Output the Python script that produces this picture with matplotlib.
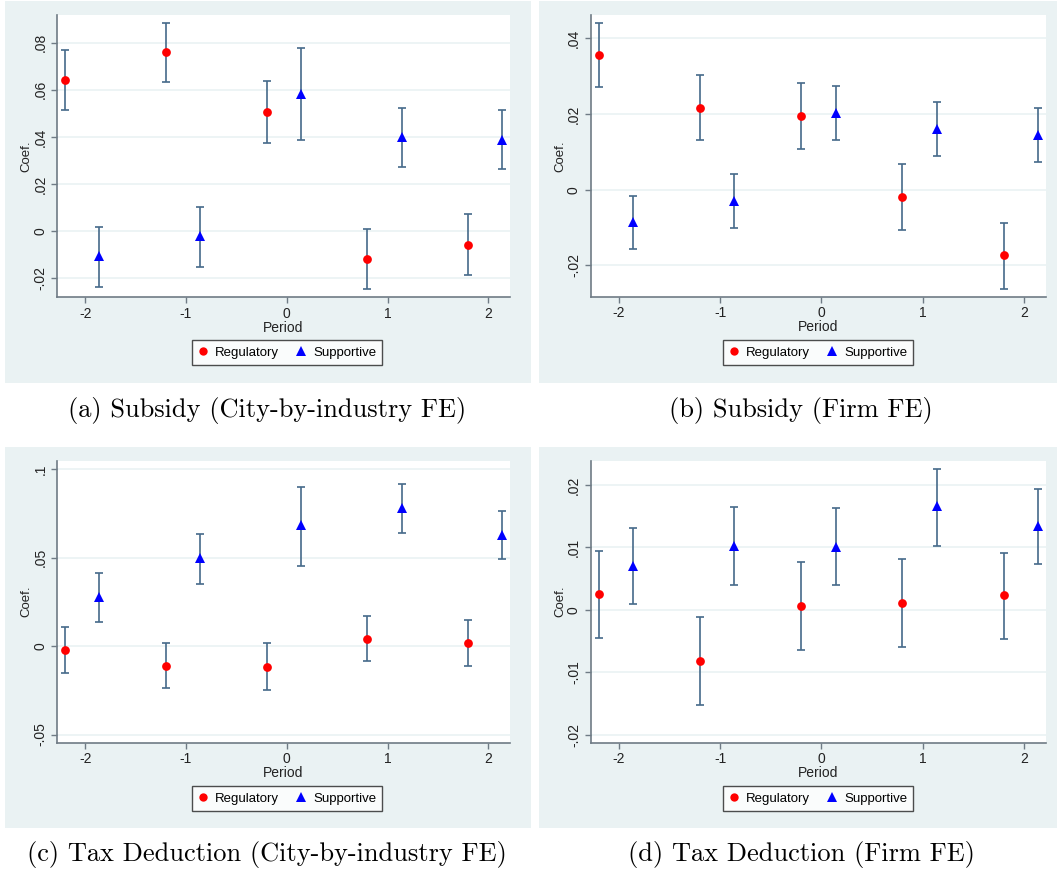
import matplotlib
matplotlib.use("Agg")
import matplotlib.pyplot as plt
from matplotlib.lines import Line2D
from matplotlib.patches import Rectangle
from matplotlib.ticker import FixedLocator, FuncFormatter

plt.rcParams['font.family'] = ['Liberation Sans', 'DejaVu Sans']

# event-time positions (dodged)
reg_x = [-2.2, -1.2, -0.2, 0.8, 1.8]
sup_x = [-1.86, -0.86, 0.14, 1.14, 2.14]

# (a) Subsidy, city-by-industry FE
a_reg = [0.0642, 0.0758, 0.0505, -0.0116, -0.0058]
a_reg_hi = [0.0769, 0.0885, 0.0638, 0.0010, 0.0071]
a_reg_lo = [0.0516, 0.0632, 0.0373, -0.0243, -0.0185]
a_sup = [-0.0105, -0.0020, 0.0582, 0.0401, 0.0387]
a_sup_hi = [0.0020, 0.0104, 0.0775, 0.0524, 0.0512]
a_sup_lo = [-0.0236, -0.0150, 0.0386, 0.0274, 0.0264]

# (b) Subsidy, firm FE
b_reg = [0.0356, 0.0217, 0.0194, -0.0019, -0.0174]
b_reg_hi = [0.0441, 0.0304, 0.0281, 0.0069, -0.0087]
b_reg_lo = [0.0271, 0.0131, 0.0107, -0.0107, -0.0262]
b_sup = [-0.0085, -0.0030, 0.0203, 0.0160, 0.0145]
b_sup_hi = [-0.0018, 0.0041, 0.0275, 0.0233, 0.0216]
b_sup_lo = [-0.0156, -0.0102, 0.0131, 0.0088, 0.0073]

# (c) Tax deduction, city-by-industry FE
c_reg = [-0.0023, -0.0111, -0.0119, 0.0040, 0.0017]
c_reg_hi = [0.0106, 0.0019, 0.0015, 0.0168, 0.0145]
c_reg_lo = [-0.0151, -0.0239, -0.0249, -0.0087, -0.0113]
c_sup = [0.0277, 0.0495, 0.0682, 0.0778, 0.0627]
c_sup_hi = [0.0414, 0.0631, 0.0900, 0.0915, 0.0763]
c_sup_lo = [0.0136, 0.0352, 0.0454, 0.0637, 0.0492]

# (d) Tax deduction, firm FE
d_reg = [0.0025, -0.0082, 0.0006, 0.0011, 0.0023]
d_reg_hi = [0.0095, -0.0011, 0.0077, 0.0081, 0.0091]
d_reg_lo = [-0.0045, -0.0153, -0.0064, -0.0060, -0.0047]
d_sup = [0.0071, 0.0102, 0.0101, 0.0166, 0.0135]
d_sup_hi = [0.0131, 0.0164, 0.0163, 0.0226, 0.0194]
d_sup_lo = [0.0010, 0.0040, 0.0039, 0.0103, 0.0074]

x_ticks = [-2, -1, 0, 1, 2]
captions = ["(a) Subsidy (City-by-industry FE)", "(b) Subsidy (Firm FE)",
            "(c) Tax Deduction (City-by-industry FE)", "(d) Tax Deduction (Firm FE)"]

W, H = 1057, 875
BG = '#eaf2f3'
BAR = '#466a8a'
AXC = '#6f7b85'

fig = plt.figure(figsize=(W / 100, H / 100), dpi=100)


def fx(px):
    return px / W


def fy(py):
    return 1 - py / H


def stata_fmt(v, pos=None):
    v = round(v, 6)
    if v == 0:
        return "0"
    s = f"{v:g}"
    return s.replace("0.", ".")


panels = [
    # bg box, axes box (left, top, right, bottom), ylim, yticks, data
    dict(bg=(5, 1, 531, 383), ax=(57, 15, 510, 297), ylim=(-0.0279, 0.0917),
         yt=[-0.02, 0, 0.02, 0.04, 0.06, 0.08], leg=(287, 352.5), cap=(267, 410),
         d=(a_reg, a_reg_lo, a_reg_hi, a_sup, a_sup_lo, a_sup_hi)),
    dict(bg=(539, 1, 1057, 383), ax=(590.7, 15, 1045.7, 296.7), ylim=(-0.0283, 0.0462),
         yt=[-0.02, 0, 0.02, 0.04], leg=(818, 352.5), cap=(801, 410),
         d=(b_reg, b_reg_lo, b_reg_hi, b_sup, b_sup_lo, b_sup_hi)),
    dict(bg=(5, 447, 531, 828), ax=(57, 460.7, 510, 742.7), ylim=(-0.0546, 0.1047),
         yt=[-0.05, 0, 0.05, 0.1], leg=(287, 798.5), cap=(267, 855),
         d=(c_reg, c_reg_lo, c_reg_hi, c_sup, c_sup_lo, c_sup_hi)),
    dict(bg=(539, 447, 1057, 828), ax=(590.7, 460.7, 1045.7, 742.7), ylim=(-0.0213, 0.0239),
         yt=[-0.02, -0.01, 0, 0.01, 0.02], leg=(818, 798.5), cap=(801, 855),
         d=(d_reg, d_reg_lo, d_reg_hi, d_sup, d_sup_lo, d_sup_hi)),
]

for p, caption in zip(panels, captions):
    x0, y0, x1, y1 = p['bg']
    fig.patches.append(Rectangle((fx(x0), fy(y1)), fx(x1 - x0), (y1 - y0) / H,
                                 transform=fig.transFigure, facecolor=BG,
                                 edgecolor='none', zorder=-5))
    l, t, r, b = p['ax']
    ax = fig.add_axes([fx(l), fy(b), fx(r - l), (b - t) / H])
    ax.set_facecolor('white')
    ax.set_xlim(-2.28, 2.215)
    ax.set_ylim(*p['ylim'])

    reg, reg_lo, reg_hi, sup, sup_lo, sup_hi = p['d']
    for xs, ys, lo, hi in ((reg_x, reg, reg_lo, reg_hi), (sup_x, sup, sup_lo, sup_hi)):
        err = [[y - a for y, a in zip(ys, lo)], [c - y for y, c in zip(ys, hi)]]
        ax.errorbar(xs, ys, yerr=err, fmt='none', ecolor=BAR, elinewidth=1.2,
                    capsize=3, capthick=1.2, zorder=2)
    ax.plot(reg_x, reg, 'o', color='#ff0000', markersize=6.3, markeredgewidth=0, zorder=3)
    ax.plot(sup_x, sup, '^', color='#0000ff', markersize=6.8, markeredgewidth=0, zorder=3)

    ax.yaxis.set_major_locator(FixedLocator(p['yt']))
    ax.yaxis.set_major_formatter(FuncFormatter(stata_fmt))
    ax.set_xticks(x_ticks)
    ax.set_xticklabels([str(v) for v in x_ticks])
    ax.grid(axis='y', color=BG, linewidth=1.2)
    ax.set_axisbelow(True)
    for s in ('top', 'right'):
        ax.spines[s].set_visible(False)
    for s in ('left', 'bottom'):
        ax.spines[s].set_color(AXC)
        ax.spines[s].set_linewidth(1.2)
    ax.tick_params(direction='out', length=4, width=1, color=AXC,
                   labelsize=10, pad=3, labelcolor='#222222')
    for lab in ax.get_yticklabels():
        lab.set_rotation(90)
        lab.set_va('center')
    ax.set_xlabel("Period", fontsize=10, labelpad=0, color='#222222')
    ax.set_ylabel("Coef.", fontsize=9.5, labelpad=0.5, color='#222222')

    handles = [Line2D([], [], ls='none', marker='o', color='#ff0000', markersize=6,
                      markeredgewidth=0),
               Line2D([], [], ls='none', marker='^', color='#0000ff', markersize=6.5,
                      markeredgewidth=0)]
    lx, ly = p['leg']
    leg = fig.legend(handles, ["Regulatory", "Supportive"], loc='center',
                     bbox_to_anchor=(fx(lx), fy(ly)), ncol=2, fontsize=9.5,
                     frameon=True, fancybox=False, edgecolor='#222222',
                     handlelength=0.8, handletextpad=0.5, columnspacing=1.3,
                     borderpad=0.45)
    leg.get_frame().set_linewidth(1.0)

    cx, cy = p['cap']
    fig.text(fx(cx), fy(cy), caption, ha='center', va='center',
             fontsize=19, family='cmr10')

fig.savefig("out.png", dpi=100, facecolor='white')
